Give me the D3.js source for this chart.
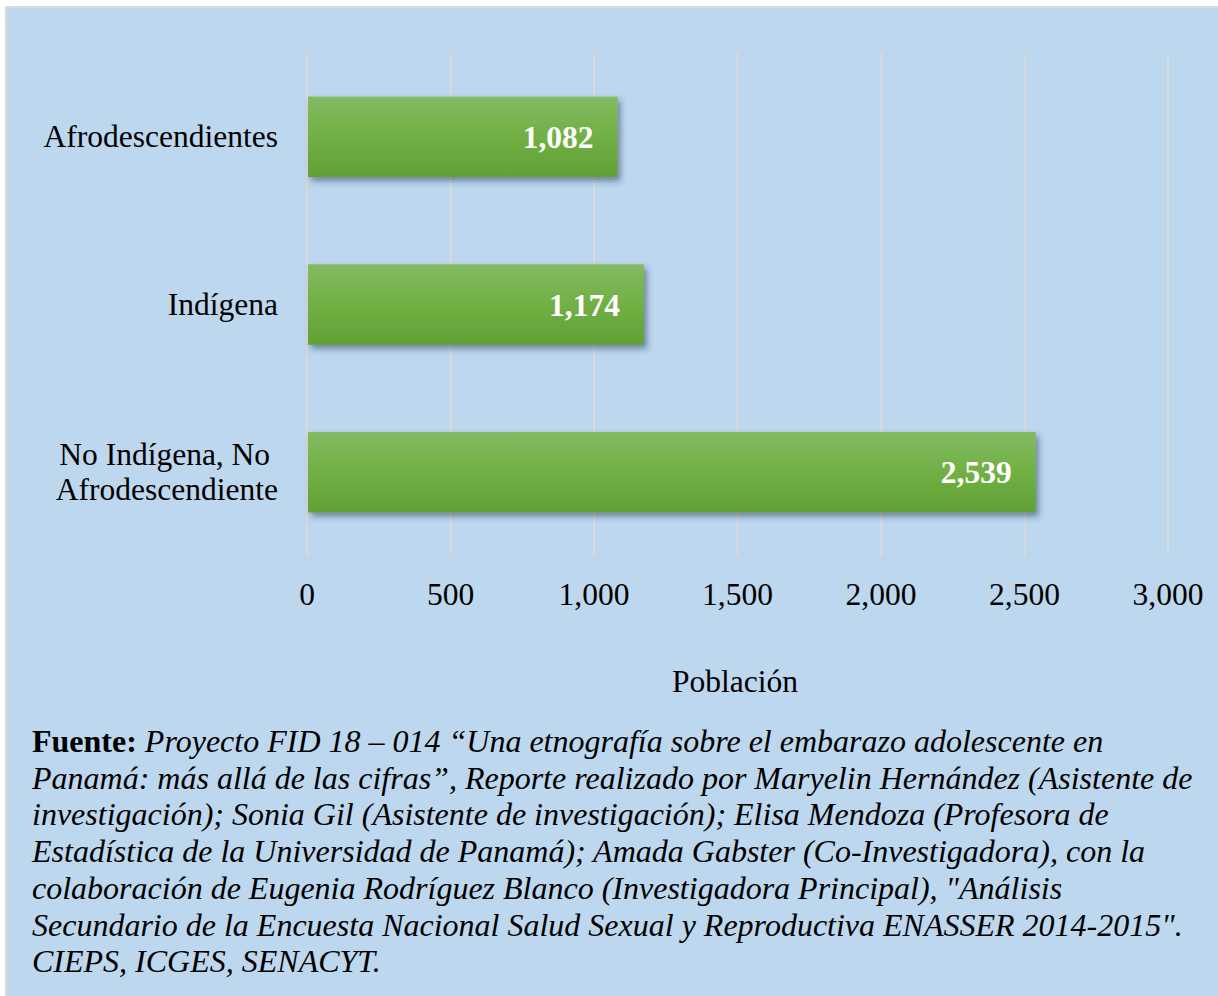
<!DOCTYPE html>
<html>
<head>
<meta charset="utf-8">
<script src="https://cdn.jsdelivr.net/npm/d3@7"></script>
<style>
  body { margin: 0; background: #fff; }
  svg text { font-family: "Liberation Serif", "Times New Roman", serif; }
</style>
</head>
<body>
<svg id="chart"></svg>
<script>
// data
var categories = ["Afrodescendientes", "Indígena", "No Indígena, No|Afrodescendiente"];
var values = [1082, 1174, 2539];
var tickValues = [0, 500, 1000, 1500, 2000, 2500, 3000];
var axisTitle = "Población";
var sourceLines = [
  "Proyecto FID 18 \u2013 014 \u201cUna etnografía sobre el embarazo adolescente en",
  "Panamá: más allá de las cifras\u201d, Reporte realizado por Maryelin Hernández (Asistente de",
  "investigación); Sonia Gil (Asistente de investigación); Elisa Mendoza (Profesora de",
  "Estadística de la Universidad de Panamá); Amada Gabster (Co-Investigadora), con la",
  "colaboración de Eugenia Rodríguez Blanco (Investigadora Principal), \"Análisis",
  "Secundario de la Encuesta Nacional Salud Sexual y Reproductiva ENASSER 2014-2015\".",
  "CIEPS, ICGES, SENACYT."
];

var W = 1218, H = 996;
var svg = d3.select("#chart").attr("width", W).attr("height", H);

// panel
svg.append("rect")
  .attr("x", 6).attr("y", 7).attr("width", W).attr("height", H)
  .attr("fill", "#BDD7EE").attr("stroke", "#D9D9D9").attr("stroke-width", 2);

var defs = svg.append("defs");
var grad = defs.append("linearGradient").attr("id", "barGrad")
  .attr("x1", 0).attr("y1", 0).attr("x2", 0).attr("y2", 1);
grad.append("stop").attr("offset", "0%").attr("stop-color", "#83BA63");
grad.append("stop").attr("offset", "50%").attr("stop-color", "#71B044");
grad.append("stop").attr("offset", "100%").attr("stop-color", "#61A034");

var shadow = defs.append("filter").attr("id", "shadow")
  .attr("x", "-10%").attr("y", "-20%").attr("width", "130%").attr("height", "160%");
shadow.append("feDropShadow").attr("dx", 3).attr("dy", 4).attr("stdDeviation", 3)
  .attr("flood-color", "#27405f").attr("flood-opacity", 0.55);

var x = d3.scaleLinear().domain([0, 3000]).range([307, 1168]);
var y = d3.scaleBand().domain(categories).range([53, 556])
  .paddingInner(0.52).paddingOuter(0.26);

// gridlines
svg.append("g").selectAll("line").data(tickValues).enter().append("line")
  .attr("x1", function (d) { return x(d); })
  .attr("x2", function (d) { return x(d); })
  .attr("y1", 53).attr("y2", 556)
  .attr("stroke", "#D9D9D9").attr("stroke-width", 2);

// bars
svg.append("g").selectAll("rect").data(values).enter().append("rect")
  .attr("x", x(0) + 1)
  .attr("y", function (d, i) { return y(categories[i]); })
  .attr("width", function (d) { return x(d) - x(0) - 1; })
  .attr("height", y.bandwidth())
  .attr("fill", "url(#barGrad)")
  .attr("filter", "url(#shadow)");

// value labels
svg.append("g").selectAll("text").data(values).enter().append("text")
  .attr("x", function (d) { return x(d) - 24; })
  .attr("y", function (d, i) { return y(categories[i]) + y.bandwidth() / 2 + 11; })
  .attr("text-anchor", "end")
  .attr("fill", "#fff")
  .attr("font-weight", "bold")
  .attr("font-size", "31.5px")
  .text(function (d) { return d3.format(",")(d); });

// category labels
categories.forEach(function (c) {
  var parts = c.split("|");
  var cy = y(c) + y.bandwidth() / 2;
  var t = svg.append("text")
    .attr("text-anchor", "end")
    .attr("font-size", "31.5px")
    .attr("fill", "#000")
    .style("white-space", "pre");
  if (parts.length === 1) {
    t.append("tspan").attr("x", 278).attr("y", cy + 10).text(parts[0]);
  } else {
    t.append("tspan").attr("x", 278).attr("y", cy - 7).text(parts[0] + " ");
    t.append("tspan").attr("x", 278).attr("y", cy + 28).text(parts[1]);
  }
});

// x axis tick labels
svg.append("g").selectAll("text").data(tickValues).enter().append("text")
  .attr("x", function (d) { return x(d); })
  .attr("y", 605)
  .attr("text-anchor", "middle")
  .attr("font-size", "31.5px")
  .text(function (d) { return d3.format(",")(d); });

svg.append("text")
  .attr("x", 735).attr("y", 692)
  .attr("text-anchor", "middle")
  .attr("font-size", "31.5px")
  .text(axisTitle);

// source note
var note = svg.append("text").attr("font-size", "32px").attr("fill", "#000");
sourceLines.forEach(function (line, i) {
  var ts = note.append("tspan").attr("x", 32).attr("y", 752 + i * 36.7);
  if (i === 0) {
    ts.append("tspan").attr("font-weight", "bold").text("Fuente: ");
  }
  ts.append("tspan").attr("font-style", "italic").text(line);
});
</script>
</body>
</html>
